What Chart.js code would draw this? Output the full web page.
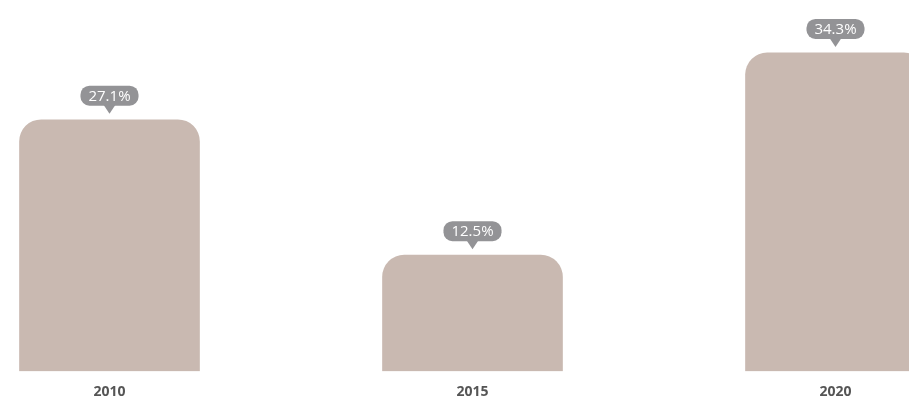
<!DOCTYPE html>
<html>
<head>
<meta charset="utf-8">
<script src="https://cdn.jsdelivr.net/npm/chart.js@4"></script>
<style>
  html, body { margin: 0; padding: 0; background: #fff; }
  .wrap { position: relative; width: 909px; height: 412px; overflow: hidden; }
  #myChart { position: absolute; left: -72px; top: 0; width: 1089px; height: 412px; }
</style>
</head>
<body>
<div class="wrap"><canvas id="myChart" width="1089" height="412"></canvas></div>
<script>
const years = ["2010", "2015", "2020"];
const shares = [27.1, 12.5, 34.3];
const labelText = ["27.1%", "12.5%", "34.3%"];

// bubble labels above each bar
const bubbles = {
    id: 'bubbles',
    afterDatasetsDraw(chart) {
        const ctx = chart.ctx;
        const meta = chart.getDatasetMeta(0);
        ctx.save();
        ctx.font = '15px "Open Sans"';
        ctx.textAlign = 'center';
        ctx.textBaseline = 'middle';
        meta.data.forEach(function (bar, i) {
            const txt = labelText[i];
            const w = ctx.measureText(txt).width + 16;
            const h = 20;
            const tip = bar.y - 6;
            const bottom = tip - 8;
            const top = bottom - h;
            const left = bar.x - w / 2;
            ctx.fillStyle = '#939396';
            ctx.beginPath();
            ctx.roundRect(left, top, w, h, 9);
            ctx.fill();
            ctx.beginPath();
            ctx.moveTo(bar.x - 6, bottom - 1);
            ctx.lineTo(bar.x + 6, bottom - 1);
            ctx.lineTo(bar.x, tip);
            ctx.closePath();
            ctx.fill();
            ctx.fillStyle = '#ffffff';
            ctx.fillText(txt, bar.x, top + h / 2 + 1);
        });
        ctx.restore();
    }
};

var ctx = document.getElementById("myChart").getContext('2d');
var myChart = new Chart(ctx, {
    type: 'bar',
    data: {
        labels: years,
        datasets: [{
            data: shares,
            backgroundColor: "#c9b9b1",
            borderRadius: { topLeft: 22, topRight: 22 },
            borderSkipped: 'bottom',
            barThickness: 180
        }]
    },
    options: {
        responsive: false,
        animation: false,
        layout: { padding: { top: 0, bottom: 0, left: 0, right: 0 } },
        plugins: { legend: { display: false }, tooltip: { enabled: false } },
        scales: {
            x: {
                grid: { display: false, drawTicks: false },
                border: { display: false },
                ticks: {
                    padding: 12,
                    color: '#555555',
                    font: { family: '"Open Sans"', size: 14, weight: 'bold' }
                }
            },
            y: {
                display: false,
                min: 0,
                max: 40
            }
        }
    },
    plugins: [bubbles]
});
</script>
</body>
</html>
